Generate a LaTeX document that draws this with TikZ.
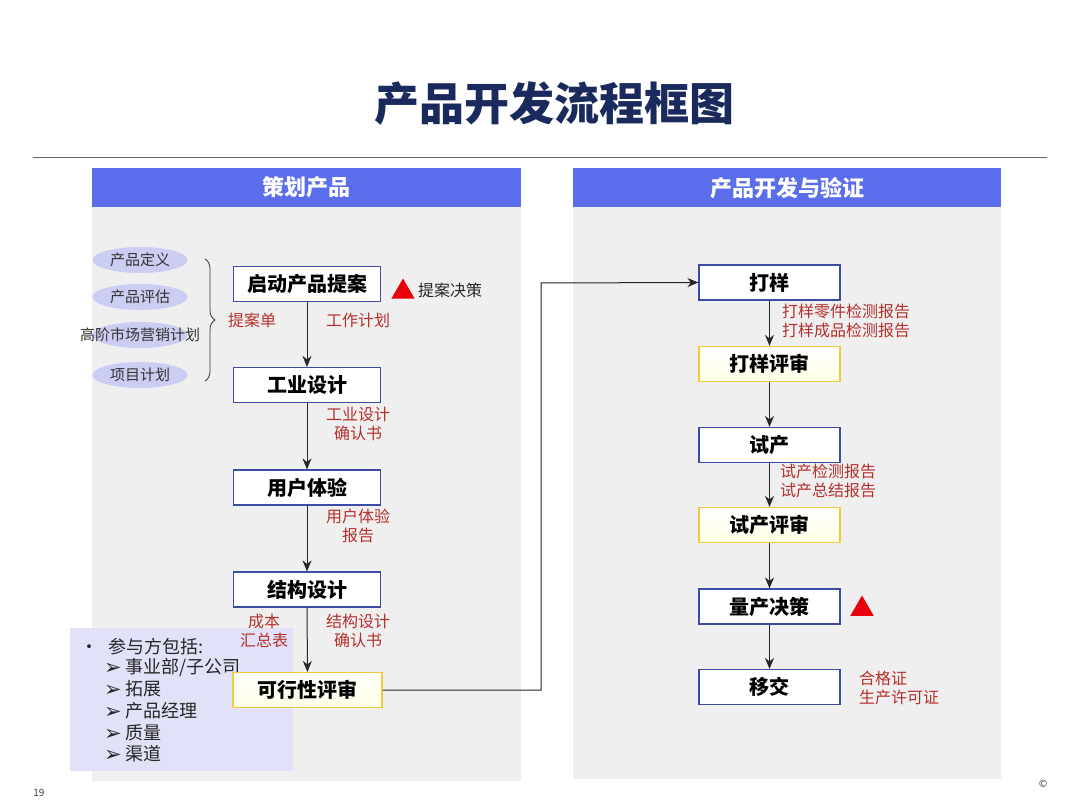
\documentclass[tikz,border=0pt]{standalone}
\usepackage{fontspec}
\setmainfont{Noto Sans CJK SC}
\newfontfamily\cjk{Noto Sans CJK SC}
\newfontfamily\dv{DejaVu Sans}
\usetikzlibrary{arrows.meta,decorations.pathreplacing,shapes.geometric}
\definecolor{titlec}{HTML}{1B2A5C}
\definecolor{hdr}{HTML}{5A6DEA}
\definecolor{panel}{HTML}{EFEFEF}
\definecolor{boxb}{HTML}{3B4BA6}
\definecolor{yelb}{HTML}{F2CB3A}
\definecolor{redt}{HTML}{B5302C}
\definecolor{ell}{HTML}{CBCDF2}
\definecolor{part}{HTML}{E1E2F8}
\definecolor{tri}{HTML}{E8000B}
\newcommand{\arrmk}{\raisebox{-1pt}{\dv\bfseries\fontsize{21}{22}\selectfont ➢}\hspace{4pt}}
\tikzset{
  stepbox/.style={draw=boxb, line width=1.2pt, fill=white, minimum width=147pt, minimum height=35pt, inner sep=0pt, font=\cjk\fontsize{20}{22}\selectfont\bfseries},
  revbox/.style={stepbox, draw=yelb, top color=white, bottom color=yellow!10},
  redlab/.style={text=redt, font=\cjk\fontsize{16}{19.5}\selectfont, inner sep=0pt, align=center},
  ellt/.style={font=\cjk\fontsize{15}{17}\selectfont, text=black!80, inner sep=0pt},
  hdrbox/.style={fill=hdr, minimum height=39pt, inner sep=0pt, text=white, font=\cjk\fontsize{22}{24}\selectfont\bfseries},
  arr/.style={-{Stealth[length=11pt,width=9pt]}, line width=1pt, draw=black!85},
  trimark/.style={fill=tri, draw=none, regular polygon, regular polygon sides=3, minimum size=27pt, inner sep=0pt},
  partt/.style={anchor=west, inner sep=0pt, font=\cjk\fontsize{18}{20}\selectfont, text=black!85},
}
\begin{document}
\begin{tikzpicture}[x=1pt,y=-1pt]
\useasboundingbox[fill=white] (0,0) rectangle (1080,810);
% title
\node[font=\cjk\fontsize{45}{50}\selectfont\bfseries, text=titlec] (title) at (554,104) {产品开发流程框图};
\draw[black!60, line width=0.8pt] (33,157) -- (1047,157);
% panels
\fill[panel] (92,168) rectangle (521,781);
\fill[panel] (573,168) rectangle (1001,779);
\node[hdrbox, minimum width=429pt, anchor=north west] (h1) at (92,168) {策划产品};
\node[hdrbox, minimum width=428pt, anchor=north west] (h2) at (573,168) {产品开发与验证};
% ellipses
\foreach \yy in {260,297,335,375}{\fill[ell] (140,\yy) ellipse (47.5 and 13);}
\node[ellt] (e1) at (140,260) {产品定义};
\node[ellt] (e2) at (140,297) {产品评估};
\node[ellt] (e3) at (140,335) {高阶市场营销计划};
\node[ellt] (e4) at (140,375) {项目计划};
\coordinate (bt) at (205,259);
\coordinate (bb) at (205,381);
\draw[black!80, line width=0.8pt, decorate, decoration={brace, amplitude=10pt, aspect=0.5}] (bt) -- (bb);
% participants box
\fill[part] (70,628) rectangle (293,771);
\node[partt] (p0) at (80,647) {•\hspace{10pt}参与方包括:};
\node[partt] (p1) at (104,668) {\arrmk 事业部/子公司};
\node[partt] (p2) at (104,689) {\arrmk 拓展};
\node[partt] (p3) at (104,711) {\arrmk 产品经理};
\node[partt] (p4) at (104,733) {\arrmk 质量};
\node[partt] (p5) at (104,754) {\arrmk 渠道};
% left boxes
\node[stepbox] (a1) at (307,284) {启动产品提案};
\node[stepbox] (a2) at (307,385) {工业设计};
\node[stepbox] (a3) at (307,487.5) {用户体验};
\node[stepbox] (a4) at (307,589.5) {结构设计};
\node[revbox, minimum width=149pt] (a5) at (307.5,690) {可行性评审};
\draw[arr] (a1) -- (a2);
\draw[arr] (a2) -- (a3);
\draw[arr] (a3) -- (a4);
\draw[arr] (a4) -- (a5);
% left labels
\node[redlab] (l1) at (252,320) {提案单};
\node[redlab] (l2) at (358,320) {工作计划};
\node[redlab] (l3) at (358,424) {工业设计\\确认书};
\node[redlab] (l4) at (358,526) {用户体验\\报告};
\node[redlab] (l5) at (264,631) {成本\\汇总表};
\node[redlab] (l6) at (358,631) {结构设计\\确认书};
\node[trimark] (t1) at (403,292) {};
\node[anchor=west, inner sep=0pt, font=\cjk\fontsize{16}{18}\selectfont, text=black!85] (t1l) at (418,290) {提案决策};
% right boxes
\node[stepbox, minimum width=141pt] (b1) at (769.5,282.5) {打样};
\node[revbox, minimum width=141pt] (b2) at (769.5,364) {打样评审};
\node[stepbox, minimum width=141pt] (b3) at (769.5,445) {试产};
\node[revbox, minimum width=141pt] (b4) at (769.5,525) {试产评审};
\node[stepbox, minimum width=141pt] (b5) at (769.5,606.5) {量产决策};
\node[stepbox, minimum width=141pt] (b6) at (769.5,687) {移交};
\draw[arr] (b1) -- (b2);
\draw[arr] (b2) -- (b3);
\draw[arr] (b3) -- (b4);
\draw[arr] (b4) -- (b5);
\draw[arr] (b5) -- (b6);
\coordinate (c1) at (541,690);
\coordinate (c2) at (541,283);
\draw[arr] (a5.east) -- (c1) -- (c2) -- (b1.west);
% right labels
\node[redlab, align=left, anchor=west] (r1) at (782,321) {打样零件检测报告\\打样成品检测报告};
\node[redlab, align=left, anchor=west] (r2) at (780,481) {试产检测报告\\试产总结报告};
\node[trimark] (t2) at (862,609) {};
\node[redlab, align=left, anchor=west] (r3) at (859,688) {合格证\\生产许可证};
% footer
\node[font=\fontsize{10}{12}\selectfont, text=black!75, inner sep=0pt] (pg) at (39,793) {19};
\node[font=\dv\fontsize{10}{12}\selectfont, text=black!75, inner sep=0pt] (cp) at (1043,784) {©};
\end{tikzpicture}
\end{document}
